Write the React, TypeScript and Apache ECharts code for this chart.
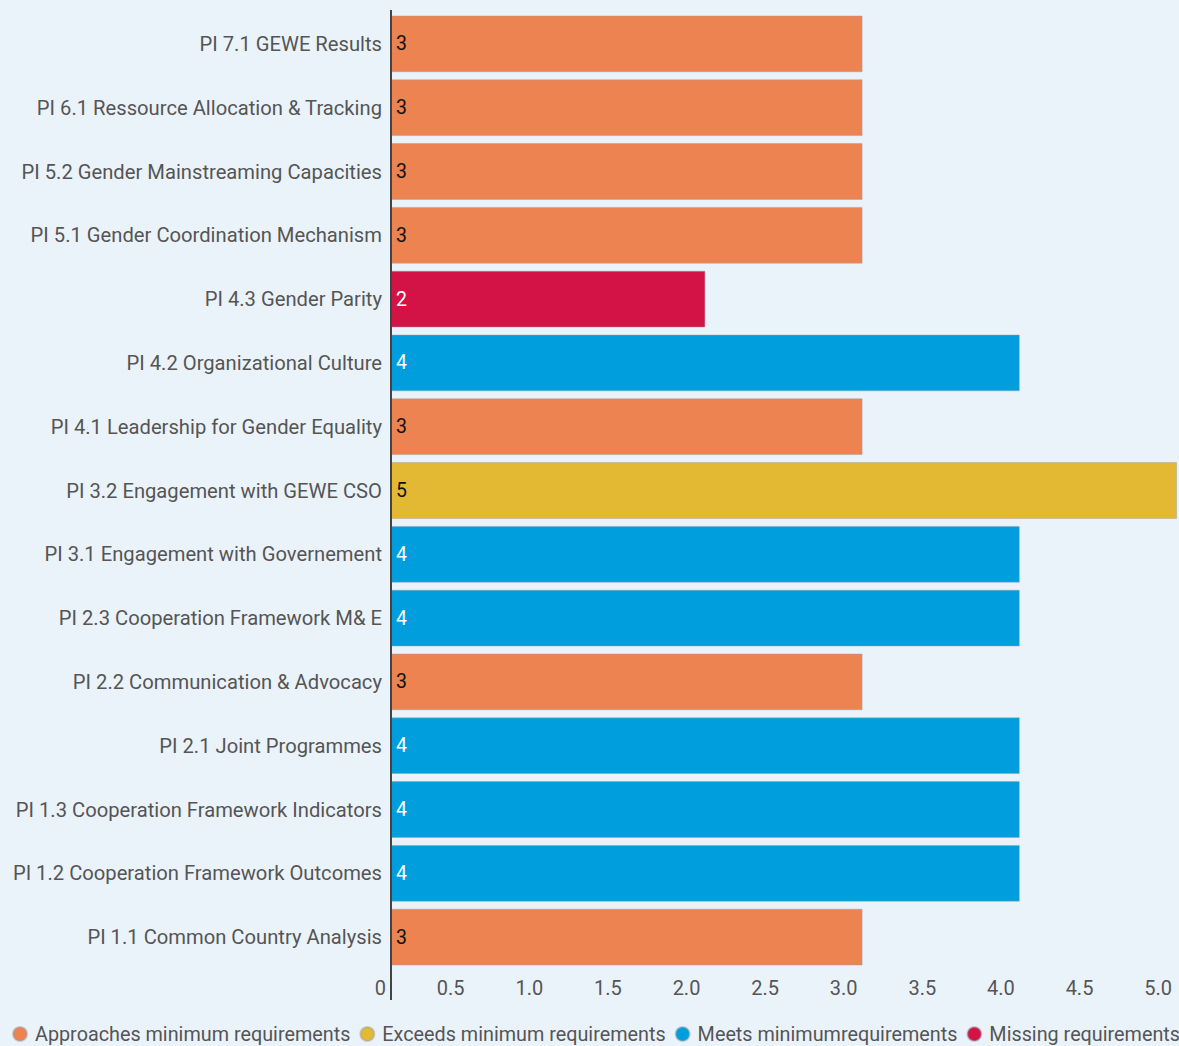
import React, { useEffect, useRef } from "react";
import * as echarts from "echarts";

const categories = [
  "PI 1.1 Common Country Analysis",
  "PI 1.2 Cooperation Framework Outcomes",
  "PI 1.3 Cooperation Framework Indicators",
  "PI 2.1 Joint Programmes",
  "PI 2.2 Communication & Advocacy",
  "PI 2.3 Cooperation Framework M& E",
  "PI 3.1 Engagement with Governement",
  "PI 3.2 Engagement with GEWE CSO",
  "PI 4.1 Leadership for Gender Equality",
  "PI 4.2 Organizational Culture",
  "PI 4.3 Gender Parity",
  "PI 5.1 Gender Coordination Mechanism",
  "PI 5.2 Gender Mainstreaming Capacities",
  "PI 6.1 Ressource Allocation & Tracking",
  "PI 7.1 GEWE Results",
];
const scores = [3, 4, 4, 4, 3, 4, 4, 5, 3, 4, 2, 3, 3, 3, 3];
const statuses = [
  "Approaches minimum requirements",
  "Meets minimumrequirements",
  "Meets minimumrequirements",
  "Meets minimumrequirements",
  "Approaches minimum requirements",
  "Meets minimumrequirements",
  "Meets minimumrequirements",
  "Exceeds minimum requirements",
  "Approaches minimum requirements",
  "Meets minimumrequirements",
  "Missing requirements",
  "Approaches minimum requirements",
  "Approaches minimum requirements",
  "Approaches minimum requirements",
  "Approaches minimum requirements",
];
const statusNames = [
  "Approaches minimum requirements",
  "Exceeds minimum requirements",
  "Meets minimumrequirements",
  "Missing requirements",
];
const statusColors = ["#ED8350", "#E3B934", "#009EDD", "#D31346"];
const labelColors = ["#111111", "#111111", "#FFFFFF", "#FFFFFF"];
const xTicks = [0, 0.5, 1, 1.5, 2, 2.5, 3, 3.5, 4, 4.5, 5];

export default function App() {
  const ref = useRef<HTMLDivElement>(null);
  useEffect(() => {
    if (!ref.current) return;
    const chart = echarts.init(ref.current, null, { renderer: "svg" });
    const font = "Roboto, 'Noto Sans', sans-serif";
    const series = statusNames.map((name, i) => ({
      name,
      type: "bar",
      stack: "total",
      barCategoryGap: "11%",
      itemStyle: {
        color: statusColors[i],
        borderColor: "rgba(150,160,170,0.45)",
        borderWidth: 1,
      },
      label: {
        show: true,
        position: "insideLeft",
        distance: 5,
        color: labelColors[i],
        fontSize: 19.5,
        fontFamily: font,
      },
      data: scores.map((s, j) => (statuses[j] === name ? s : "-")),
    }));
    chart.setOption({
      animation: false,
      backgroundColor: "#EBF3FA",
      textStyle: { fontFamily: font },
      grid: { left: 391, right: 2, top: 12, bottom: 77, containLabel: false },
      legend: {
        left: 12,
        top: 1024,
        width: 1175,
        padding: 0,
        icon: "circle",
        itemWidth: 14,
        itemHeight: 14,
        itemGap: 9,
        textStyle: { fontSize: 19.8, color: "#555", fontFamily: font, padding: [0, 0, 0, 3] },
        data: statusNames,
      },
      xAxis: {
        type: "value",
        min: xTicks[0],
        max: xTicks[xTicks.length - 1],
        interval: 0.5,
        splitLine: { show: false },
        axisLine: { show: false },
        axisTick: { show: false },
        axisLabel: {
          fontSize: 20,
          color: "#555",
          fontFamily: font,
          align: "right",
          padding: [0, 5, 0, 0],
          margin: 9,
          formatter: (v: number) => (v === 0 ? "0" : v.toFixed(1)),
        },
      },
      yAxis: {
        type: "category",
        data: categories,
        axisLine: { show: false },
        axisTick: { show: false },
        axisLabel: { fontSize: 20.2, color: "#555", fontFamily: font, margin: 9 },
      },
      graphic: [
        {
          type: "line",
          shape: { x1: 391, y1: 10, x2: 391, y2: 1000 },
          style: { stroke: "#444", lineWidth: 2 },
          z: 100,
        },
      ],
      series,
    });
    return () => chart.dispose();
  }, []);
  return <div ref={ref} style={{ width: 1179, height: 1046, position: "absolute", left: 0, top: 0 }} />;
}
